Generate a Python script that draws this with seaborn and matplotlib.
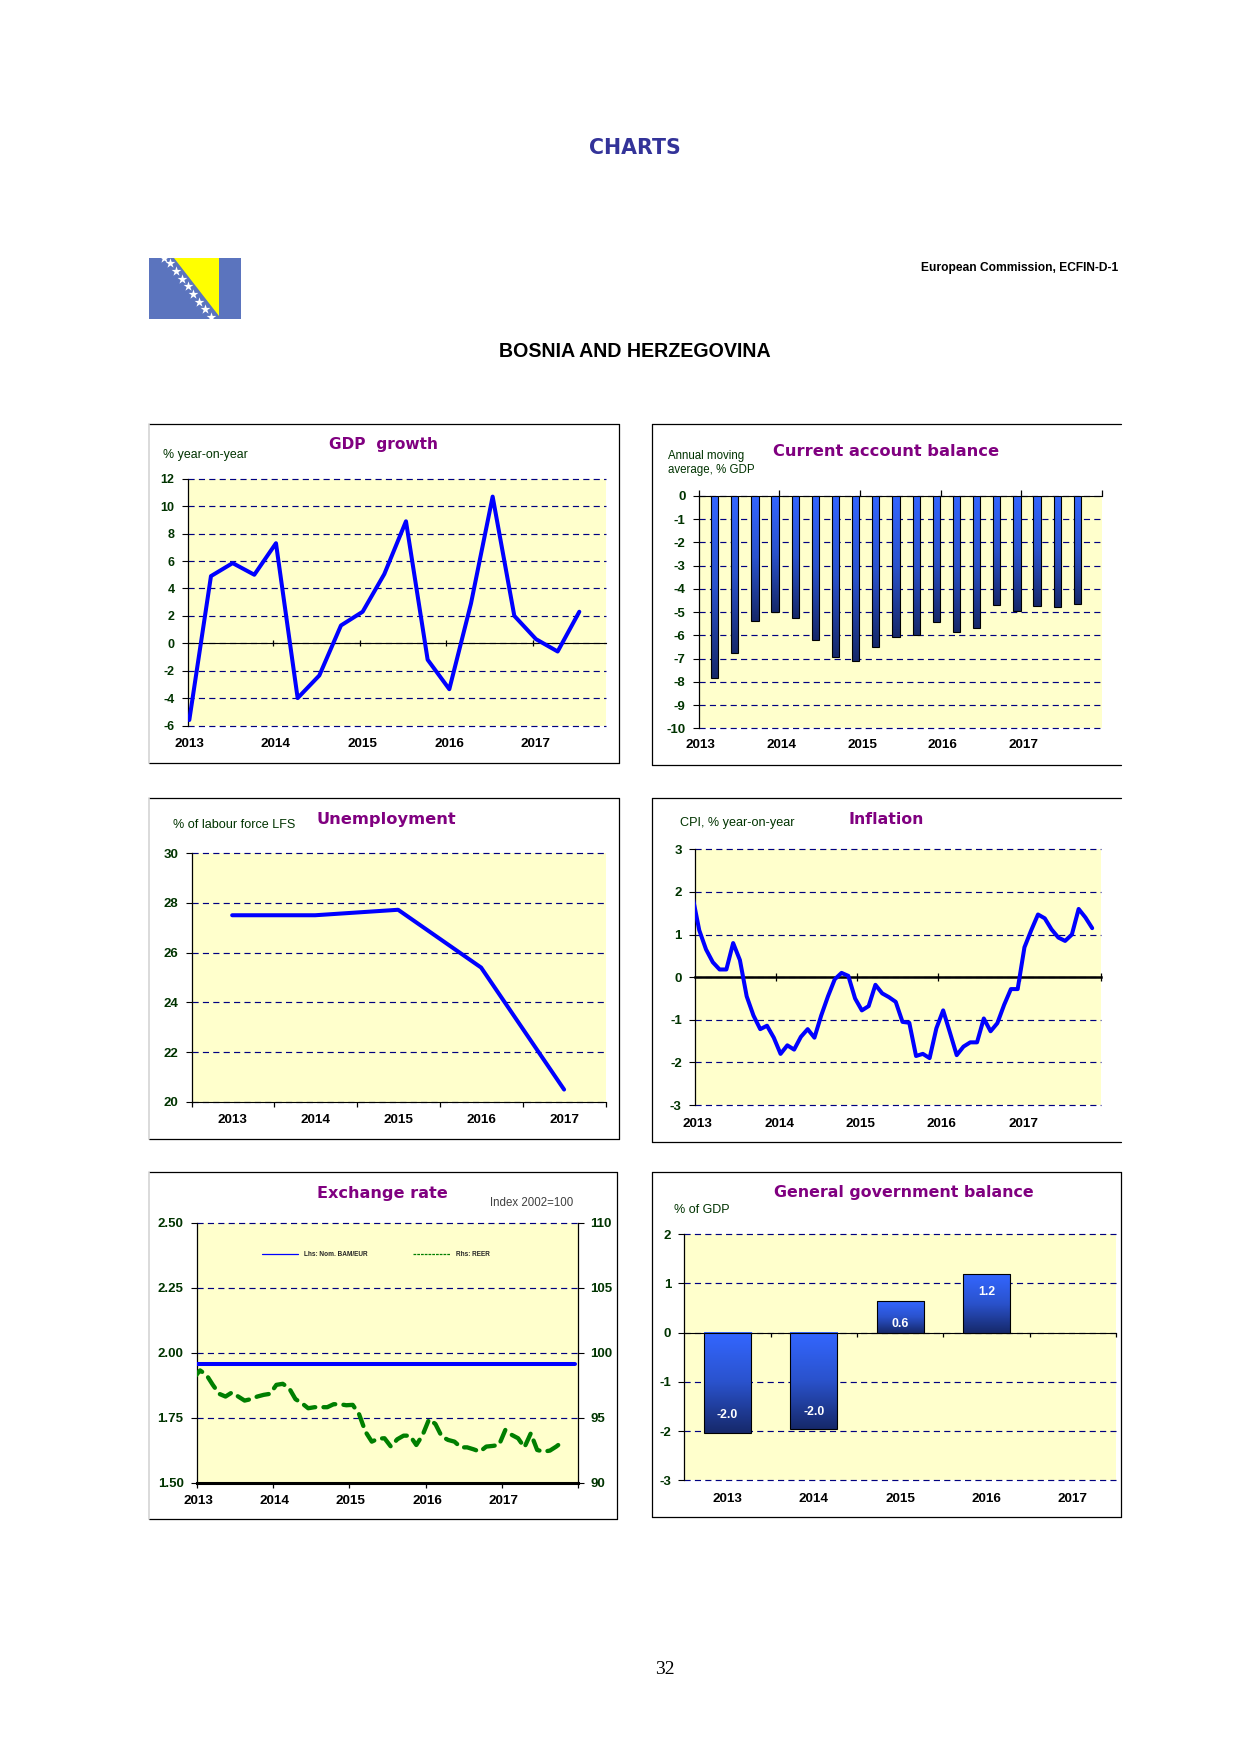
import numpy as np
import matplotlib
matplotlib.use("Agg")
import matplotlib.pyplot as plt
from matplotlib.colors import LinearSegmentedColormap
from matplotlib.lines import Line2D
from matplotlib.patches import Polygon
import seaborn as sns

# Data
years = ["2013", "2014", "2015", "2016", "2017"]

gdp_growth = [-5.6, 4.9, 5.85, 5.0, 7.3, -4.0, -2.35, 1.3, 2.3, 5.05, 8.9, -1.2,
              -3.35, 2.9, 10.7, 2.0, 0.3, -0.6, 2.3]

ca_quarters = ["13Q1", "13Q2", "13Q3", "13Q4", "14Q1", "14Q2", "14Q3", "14Q4", "15Q1", "15Q2",
               "15Q3", "15Q4", "16Q1", "16Q2", "16Q3", "16Q4", "17Q1", "17Q2", "17Q3"]
ca_balance = [-7.85, -6.78, -5.4, -5.0, -5.27, -6.2, -6.95, -7.12, -6.52, -6.09,
              -5.97, -5.44, -5.87, -5.67, -4.68, -4.93, -4.72, -4.78, -4.66]

unemployment = [27.5, 27.5, 27.72, 25.4, 20.5]

inflation = [1.9, 1.1, 0.65, 0.35, 0.18, 0.18, 0.8, 0.4, -0.45, -0.9, -1.22, -1.14,
             -1.42, -1.8, -1.6, -1.7, -1.4, -1.22, -1.42, -0.9, -0.45, -0.05, 0.1, 0.03,
             -0.5, -0.78, -0.68, -0.18, -0.38, -0.47, -0.58, -1.05, -1.07, -1.85, -1.8, -1.9,
             -1.2, -0.78, -1.3, -1.83, -1.63, -1.53, -1.53, -0.97, -1.27, -1.08, -0.65, -0.28,
             -0.28, 0.7, 1.1, 1.47, 1.38, 1.12, 0.93, 0.85, 1.0, 1.6, 1.4, 1.15]

nominal_rate = [1.956] * 61  # pegged, flat over the whole period

reer = [98.05, 98.64, 98.30, 97.53, 96.84, 96.63, 96.94, 96.63, 96.32, 96.43, 96.63, 96.76,
        96.84, 97.53, 97.61, 97.28, 96.43, 96.12, 95.73, 95.81, 95.81, 95.81, 96.04, 96.04,
        95.96, 95.99, 95.27, 93.93, 93.16, 93.39, 93.42, 92.78, 93.34, 93.62, 93.62, 92.90,
        93.68, 94.88, 94.52, 93.55, 93.29, 93.16, 92.72, 92.72, 92.57, 92.39, 92.78, 92.83,
        92.90, 94.06, 93.68, 93.42, 92.72, 93.80, 92.52, 92.39, 92.47, 92.78, 93.16]

gov_balance = [-2.04, -1.96, 0.64, 1.19, np.nan]

star_x = [15.0, 21.0, 26.7, 32.7, 38.7, 44.3, 50.3, 56.0, 61.7]
star_y = [0.3, 5.3, 12.7, 20.7, 28.0, 36.0, 44.0, 51.3, 58.7]

W, H = 1240, 1754
YELLOW = "#FFFFCC"
NAVY = "#000080"
BLUE = "#0000FF"
GREEN = "#007F00"
PURPLE = "#800080"
DARK = "#003300"
LINE_W = 2.9

sns.set_theme(style="white", rc={"axes.edgecolor": "black", "axes.linewidth": 0.8,
                                 "xtick.color": "black", "ytick.color": "black"})
plt.rcParams["font.family"] = ["Liberation Sans", "DejaVu Sans"]

fig = plt.figure(figsize=(W / 100, H / 100), dpi=100, facecolor="white")


def px_axes(left, top, right, bottom):
    return fig.add_axes([left / W, 1 - bottom / H, (right - left) / W, (bottom - top) / H])


def page_text(x, y, s, **kw):
    kw.setdefault("va", "center")
    fig.text(x / W, 1 - y / H, s, **kw)


def hline(x0, x1, y, color="black", lw=0.9):
    fig.add_artist(Line2D([x0 / W, x1 / W], [1 - y / H, 1 - y / H], color=color, lw=lw))


def vline(x, y0, y1, color="black", lw=0.9):
    fig.add_artist(Line2D([x / W, x / W], [1 - y0 / H, 1 - y1 / H], color=color, lw=lw))


def panel_frame(x0, y0, x1, y1, left_color="black", right=True):
    hline(x0, x1, y0)
    hline(x0, x1, y1)
    vline(x0, y0, y1, color=left_color, lw=1.2 if left_color != "black" else 0.9)
    if right:
        vline(x1, y0, y1)


def panel_title(x, y, s, size=11.5):
    page_text(x, y, s, color=PURPLE, fontsize=size, fontweight="bold",
              family="DejaVu Sans", ha="center")


def style_axes(ax, yticks, ylim, xlim, tick_pos, label_pos, zero=None, tick_dir="out",
               tick_len=3.6, spine_w=0.8, label_pad=9, yfmt="{:d}", yside=9.5):
    ax.set_facecolor(YELLOW)
    ax.set_xlim(*xlim)
    ax.set_ylim(*ylim)
    ax.set_yticks(yticks)
    ax.set_yticklabels([yfmt.format(v) for v in yticks], color=DARK, fontsize=yside, fontweight="bold")
    ax.tick_params(axis="y", left=True, length=4, width=0.8, pad=5.5, color="black")
    ax.yaxis.grid(True, color=NAVY, lw=0.85, linestyle=(0, (5.2, 3.6)))
    for g in ax.get_ygridlines():
        g.set_clip_on(False)
    ax.xaxis.grid(False)
    ax.set_axisbelow(True)
    ax.spines["top"].set_visible(False)
    ax.spines["right"].set_visible(False)
    ax.spines["left"].set_linewidth(0.9)
    ax.spines["bottom"].set_linewidth(spine_w)
    if zero is not None:
        ax.spines["bottom"].set_position(("data", zero))
    ax.set_xticks(tick_pos)
    ax.set_xticklabels([])
    ax.set_xlabel("")
    ax.set_ylabel("")
    ax.tick_params(axis="x", bottom=True, direction=tick_dir, length=tick_len, width=0.9, color="black")
    for x, year in zip(label_pos, years):
        ax.annotate(year, xy=(x, 0), xycoords=ax.get_xaxis_transform(), xytext=(0, -label_pad),
                    textcoords="offset points", ha="center", va="top", fontsize=9.7,
                    fontweight="bold", color="black", annotation_clip=False)


bar_cmap = LinearSegmentedColormap.from_list("bars", ["#3366FF", "#2A52CC", "#16296B"])


def gradient_bars(ax):
    # seaborn draws the bars, the gradient is laid inside each one
    grad = np.linspace(0, 1, 64).reshape(-1, 1)
    for bar in ax.patches:
        x, y, w, h = bar.get_x(), bar.get_y(), bar.get_width(), bar.get_height()
        ax.imshow(grad, cmap=bar_cmap, extent=(x, x + w, min(y, y + h), max(y, y + h)),
                  aspect="auto", zorder=2.6, interpolation="bilinear")
        bar.set_facecolor("none")
        bar.set_edgecolor("black")
        bar.set_linewidth(0.8)
        bar.set_zorder(2.7)


# Page header
page_text(635, 147.5, "CHARTS", color="#333399", fontsize=14.8, fontweight="bold",
          family="DejaVu Sans", ha="center")
page_text(635.3, 351.5, "BOSNIA AND HERZEGOVINA", color="black", fontsize=14.1,
          fontweight="bold", ha="center")
page_text(1118.5, 268.3, "European Commission, ECFIN-D-1", color="black", fontsize=8.65,
          fontweight="bold", ha="right")
page_text(664.5, 1669.5, "32", color="black", fontsize=14, family="Liberation Serif", ha="center")

# Flag
flag = px_axes(149, 258, 240.7, 318.7)
flag.set_xlim(0, 91.7)
flag.set_ylim(60.7, 0)
flag.set_facecolor("#5B74BE")
flag.add_patch(Polygon([(25.3, 0), (70, 0), (70, 58)], closed=True, color="#FFFF00", lw=0))
flag.scatter(star_x, star_y, marker="*", s=55, color="white", linewidths=0, zorder=3)
flag.set_xticks([])
flag.set_yticks([])
for s in flag.spines.values():
    s.set_visible(False)

# Frames around the panels
panel_frame(149, 424.2, 618.5, 763, left_color="#D4D4D4")
panel_frame(651.5, 424.2, 1120.7, 765.3, right=False)
panel_frame(149, 798, 619, 1139, left_color="#D4D4D4")
panel_frame(651.5, 798, 1120.7, 1142, right=False)
panel_frame(149, 1172.3, 617.3, 1519.3, left_color="#D4D4D4")
panel_frame(651.5, 1172.3, 1120.7, 1517.3)

# GDP growth
ax = px_axes(187.7, 478.8, 606.4, 725.5)
sns.lineplot(x=np.arange(len(gdp_growth)), y=gdp_growth, ax=ax, color=BLUE, linewidth=LINE_W,
             errorbar=None, zorder=3)
style_axes(ax, list(range(-6, 13, 2)), (-6, 12), (-0.074, 19.25),
           [3.86, 7.86, 11.86, 15.86], [0, 4, 8, 12, 16], zero=0, tick_dir="inout",
           tick_len=5, label_pad=9, yside=9)
panel_title(383.5, 444.3, "GDP  growth", size=11.1)
page_text(162.7, 455, "% year-on-year", color=DARK, fontsize=8.95)

# Current account balance
ax = px_axes(698.7, 496, 1102, 728.3)
sns.barplot(x=ca_quarters, y=ca_balance, ax=ax, color="#3366FF", width=0.36, errorbar=None)
gradient_bars(ax)
style_axes(ax, list(range(-10, 1)), (-10, 0), (-0.79, 19.22),
           [-0.79, 3.21, 7.21, 11.21, 15.21, 19.21], [-0.68, 3.32, 7.32, 11.32, 15.32],
           zero=0, tick_dir="in", tick_len=4, label_pad=8)
panel_title(886.5, 451.7, "Current account balance", size=11.7)
page_text(668.3, 456, "Annual moving", color=DARK, fontsize=8.3)
page_text(668.3, 470, "average, % GDP", color=DARK, fontsize=8.3)

# Unemployment
ax = px_axes(191.5, 853, 606.4, 1102)
sns.lineplot(x=np.arange(len(unemployment)), y=unemployment, ax=ax, color=BLUE, linewidth=LINE_W,
             errorbar=None, zorder=3)
style_axes(ax, list(range(20, 31, 2)), (20, 30), (-0.49, 4.51),
           [-0.49, 0.51, 1.51, 2.51, 3.51, 4.51], [0, 1, 2, 3, 4], label_pad=8.3)
panel_title(386, 819.3, "Unemployment", size=11.7)
page_text(173.3, 824.7, "% of labour force LFS", color=DARK, fontsize=9.05)

# Inflation
ax = px_axes(695, 849.3, 1101, 1105)
sns.lineplot(x=np.arange(len(inflation)), y=inflation, ax=ax, color=BLUE, linewidth=LINE_W,
             errorbar=None, zorder=3)
style_axes(ax, list(range(-3, 4)), (-3, 3), (0.37, 60.3),
           [12.3, 24.3, 36.3, 48.3, 60.3], [0.8, 12.8, 24.8, 36.8, 48.8], zero=0,
           tick_dir="inout", tick_len=6, spine_w=1.8, label_pad=9.3)
panel_title(886.3, 819.3, "Inflation", size=11.3)
page_text(680.4, 823.3, "CPI, % year-on-year", color=DARK, fontsize=9.05)

# Exchange rate, two scales
ax = px_axes(196.7, 1222.8, 578.3, 1482.7)
sns.lineplot(x=np.arange(len(nominal_rate)), y=nominal_rate, ax=ax, color=BLUE, linewidth=LINE_W,
             errorbar=None, zorder=3)
style_axes(ax, [1.5, 1.75, 2.0, 2.25, 2.5], (1.5, 2.5), (0.47, 60.47),
           [0.47, 12.47, 24.47, 36.47, 48.47, 60.47], [0.72, 12.72, 24.72, 36.72, 48.72],
           spine_w=2.2, label_pad=9.2, yfmt="{:.2f}")
ax.spines["right"].set_visible(True)
ax.spines["right"].set_linewidth(0.9)
ax_r = ax.twinx()
sns.lineplot(x=np.arange(len(reer)), y=reer, ax=ax_r, color=GREEN, linewidth=3.1,
             errorbar=None, linestyle=(0, (2.9, 1.9)), dash_capstyle="round")
ax_r.set_ylim(90, 110)
ax_r.set_yticks([90, 95, 100, 105, 110])
ax_r.set_yticklabels(["90", "95", "100", "105", "110"], color=DARK, fontsize=9.5, fontweight="bold")
ax_r.tick_params(axis="y", right=True, length=4, width=0.8, pad=4.8, color="black")
ax_r.set_ylabel("")
ax_r.grid(False)
for name in ["top", "left", "bottom", "right"]:
    ax_r.spines[name].set_visible(False)
handles = [Line2D([], [], color=BLUE, lw=0.9), Line2D([], [], color=GREEN, lw=0.9, linestyle=(0, (2.2, 0.8)))]
leg = ax.legend(handles, ["Lhs: Nom. BAM/EUR", "Rhs: REER"], ncol=2, frameon=False,
                handlelength=5.6, handletextpad=0.9, columnspacing=7.0, borderpad=0, borderaxespad=0,
                loc="center left", bbox_to_anchor=((261.7 - 196.7) / 381.6, (1482.7 - 1254.3) / 259.9),
                prop={"size": 4.7, "weight": "bold"})
panel_title(382.8, 1193.3, "Exchange rate", size=11.6)
page_text(490, 1202.7, "Index 2002=100", color="#404040", fontsize=8.3)

# General government balance
ax = px_axes(684.3, 1234.3, 1116, 1480.3)
sns.barplot(x=years, y=gov_balance, order=years, ax=ax, color="#3366FF", width=0.545, errorbar=None)
bars = ax.containers[0]
shown = [v for v in gov_balance if not np.isnan(v)]
# the short 2015 bar has its label lower down than the others
tall_labels = [f"{v:.1f}" if abs(v) > 1 else "" for v in shown]
short_labels = [f"{v:.1f}" if abs(v) <= 1 else "" for v in shown]
ax.bar_label(bars, labels=tall_labels, label_type="edge", padding=-17, color="white",
             fontsize=8.8, fontweight="bold", zorder=4)
ax.bar_label(bars, labels=short_labels, label_type="edge", padding=-21, color="white",
             fontsize=8.8, fontweight="bold", zorder=4)
gradient_bars(ax)
style_axes(ax, list(range(-3, 3)), (-3, 2), (-0.5, 4.5),
           [0.5, 1.5, 2.5, 3.5, 4.5], [0, 1, 2, 3, 4], zero=0, tick_len=3, label_pad=9)
panel_title(903.9, 1192.7, "General government balance", size=11.4)
page_text(674, 1210, "% of GDP", color=DARK, fontsize=9)

fig.savefig("out.png", dpi=100, facecolor="white")
